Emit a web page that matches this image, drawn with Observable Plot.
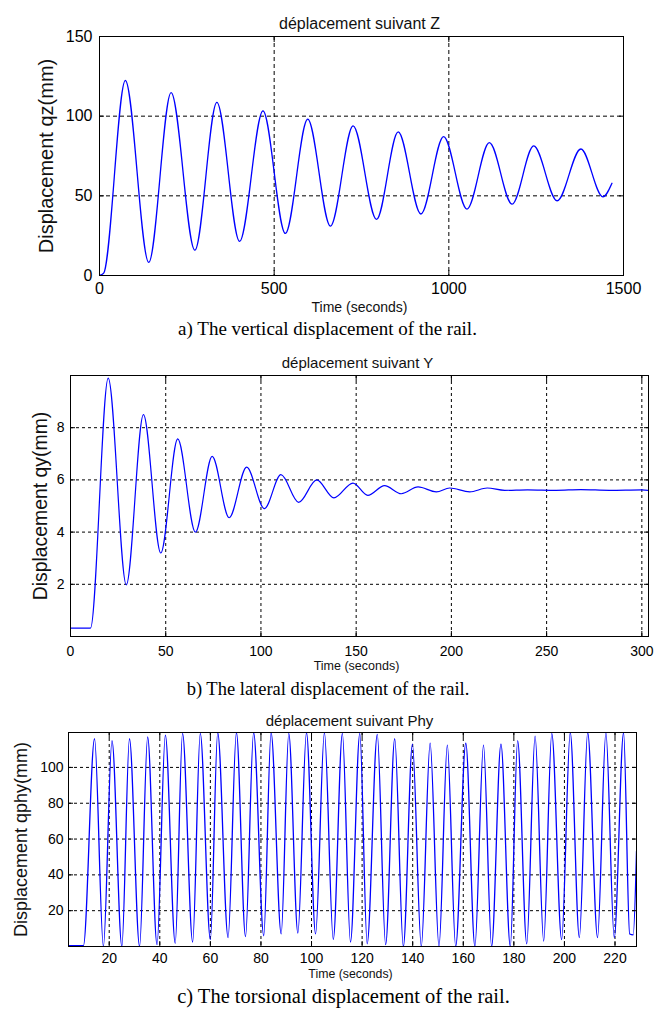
<!DOCTYPE html>
<html>
<head>
<meta charset="utf-8">
<script src="https://cdn.jsdelivr.net/npm/d3@7"></script>
<script src="https://cdn.jsdelivr.net/npm/@observablehq/plot@0.6"></script>
<style>
  body { margin: 0; background: #fff; }
  #chart svg { display: block; }
</style>
</head>
<body>
<div id="chart"></div>
<script>
// ---------- Panel a: vertical displacement ----------
const titleA = "déplacement suivant Z";
const yLabelA = "Displacement qz(mm)";
const xLabelA = "Time (seconds)";
const captionA = "a) The vertical displacement of the rail.";
const tA = [0, 12, 74, 141, 205, 273, 336, 401, 468, 532, 596, 661, 726, 793, 855, 920, 985, 1052, 1116, 1181, 1243, 1310, 1378, 1441, 1467];
const qz = [0, 1.5, 122.4, 8.2, 114.8, 15.9, 108.6, 21.4, 103.3, 26.4, 98.1, 31.0, 93.9, 35.2, 90.1, 38.6, 87.2, 41.7, 83.4, 44.8, 81.3, 46.9, 79.4, 49.4, 57.9];
const xTicksA = [0, 500, 1000, 1500];
const yTicksA = [0, 50, 100, 150];
const xGridA = [500, 1000];
const yGridA = [50, 100];

// ---------- Panel b: lateral displacement ----------
const titleB = "déplacement suivant Y";
const yLabelB = "Displacement qy(mm)";
const xLabelB = "Time (seconds)";
const captionB = "b) The lateral displacement of the rail.";
const tB = [0, 10.5, 19.8, 29.3, 38.3, 47.4, 56.3, 65.6, 74.4, 83.3, 92.5, 101.8, 110.5, 119.8, 129.3, 138.3, 148.3, 156.1, 164.9, 173.7, 182.5, 192.1, 199.1, 209.6, 218.8, 228, 240, 255, 268, 283, 300, 303.5];
const qy = [0.32, 0.32, 9.9, 1.98, 8.5, 3.2, 7.57, 4.0, 6.9, 4.55, 6.49, 4.9, 6.2, 5.14, 6.0, 5.31, 5.88, 5.41, 5.78, 5.47, 5.73, 5.54, 5.69, 5.54, 5.69, 5.6, 5.62, 5.6, 5.63, 5.6, 5.62, 5.6];
const xTicksB = [0, 50, 100, 150, 200, 250, 300];
const yTicksB = [2, 4, 6, 8];
const xGridB = [0, 50, 100, 150, 200, 250, 300];
const yGridB = [2, 4, 6, 8];

// ---------- Panel c: torsional displacement ----------
const titleC = "déplacement suivant Phy";
const yLabelC = "Displacement qphy(mm)";
const xLabelC = "Time (seconds)";
const captionC = "c) The torsional displacement of the rail.";
const tC = [3.9, 9.8, 14.2, 17.7, 21.1, 25.0, 28.0, 32.0, 35.2, 38.9, 42.2, 46.1, 49.0, 53.0, 56.0, 60.0, 62.9, 67.0, 70.3, 73.9, 77.1, 81.1, 84.0, 88.0, 91.0, 94.6, 98.0, 101.6, 105.1, 108.6, 112.2, 115.4, 119.1, 122.0, 126.0, 129.3, 132.9, 136.3, 139.9, 143.4, 146.9, 150.4, 153.7, 157.0, 161.0, 164.6, 168.0, 171.2, 174.9, 178.6, 181.5, 185.1, 188.4, 191.8, 195.0, 198.9, 202.3, 205.9, 209.2, 213.1, 216.4, 219.7, 223.4, 225.8, 227.2, 228.5];
const qphy = [0.5, 0.5, 116, 0, 115, 0, 116, 0, 117, 1, 118, 1.8, 119, 2.5, 119, 3.8, 119.5, 5, 119.5, 5.5, 119.5, 6, 119.5, 7, 119, 7.5, 119.5, 7, 119.5, 4, 119, 2.5, 119, 1.5, 118.5, 1, 116, 0, 113, 0, 113.5, 0, 112.5, 0, 113.5, 0, 112.5, 0, 113, 0, 115, 1.5, 117.5, 3, 119, 3.8, 119.5, 5, 119.5, 5, 119.5, 5, 119.5, 7, 6.5, 53];
const xTicksC = [20, 40, 60, 80, 100, 120, 140, 160, 180, 200, 220];
const yTicksC = [20, 40, 60, 80, 100];
const xGridC = [20, 40, 60, 80, 100, 120, 140, 160, 180, 200, 220];
const yGridC = [20, 40, 60, 80, 100];

const sans = "'Liberation Sans', Arial, Helvetica, sans-serif";
const serif = "'Liberation Serif', 'Times New Roman', serif";

function panel(o) {
  const data = o.t.map((t, i) => ({t, v: o.v[i]}));
  const noText = () => "";
  const plain = d => String(d);
  return Plot.plot({
    width: 654,
    height: o.height,
    marginTop: o.mt, marginBottom: o.mb, marginLeft: o.ml, marginRight: o.mr,
    style: {fontFamily: sans, background: "#fff", color: "#000", overflow: "visible"},
    x: {domain: o.xDomain, label: null},
    y: {domain: o.yDomain, label: null},
    marks: [
      Plot.gridX(o.xGrid, {stroke: "#000", strokeOpacity: 1, strokeWidth: 1, strokeDasharray: o.dash}),
      Plot.gridY(o.yGrid, {stroke: "#000", strokeOpacity: 1, strokeWidth: 1, strokeDasharray: o.dash}),
      Plot.line(data, {x: "t", y: "v", stroke: "#0000ff", strokeWidth: o.lineWidth, curve: "monotone-x", clip: true}),
      Plot.axisX(o.xTicks, {anchor: "bottom", tickSize: -5, tickFormat: noText, label: null}),
      Plot.axisX(o.xTicks, {anchor: "top", tickSize: -5, tickFormat: noText, label: null}),
      Plot.axisY(o.yTicks, {anchor: "left", tickSize: -5, tickFormat: noText, label: null}),
      Plot.axisY(o.yTicks, {anchor: "right", tickSize: -5, tickFormat: noText, label: null}),
      Plot.axisX(o.xTicks, {anchor: "bottom", tickSize: 0, tickPadding: o.xPad, fontSize: o.tickFont, tickFormat: plain, label: null}),
      Plot.axisY(o.yTicks, {anchor: "left", tickSize: 0, tickPadding: o.yPad, fontSize: o.tickFont, tickFormat: plain, label: null}),
      Plot.frame({stroke: "#000", strokeWidth: 1}),
      Plot.text([o.title], {text: d => d, frameAnchor: "top", textAnchor: "middle", dx: o.titleDx, dy: o.titleDy, fontSize: o.titleFont, fill: "#111", fontFamily: sans}),
      Plot.text([o.xLabel], {text: d => d, frameAnchor: "bottom", textAnchor: "middle", dx: o.xLabDx, dy: o.xLabDy, fontSize: o.xLabFont, fill: "#111", fontFamily: sans}),
      Plot.text([o.yLabel], {text: d => d, frameAnchor: "left", textAnchor: "middle", rotate: -90, dx: o.yLabDx, fontSize: o.yLabFont, fill: "#111", fontFamily: sans}),
      Plot.text([o.caption], {text: d => d, frameAnchor: "bottom", textAnchor: "middle", dx: o.capDx, dy: o.capDy, fontSize: o.capFont, fill: "#000", fontFamily: serif})
    ]
  });
}

const chart = document.getElementById("chart");

chart.append(panel({
  t: tA, v: qz, height: 345, mt: 36, mb: 70, ml: 99, mr: 31,
  xDomain: [0, 1500], yDomain: [0, 150],
  xTicks: xTicksA, yTicks: yTicksA, xGrid: xGridA, yGrid: yGridA, dash: "4,3",
  tickFont: 16, xPad: 7, yPad: 7, lineWidth: 1.3,
  title: titleA, titleDx: -2, titleDy: -19, titleFont: 16,
  xLabel: xLabelA, xLabDx: -2, xLabDy: 36, xLabFont: 14,
  yLabel: yLabelA, yLabDx: -53, yLabFont: 20,
  caption: captionA, capDx: -34, capDy: 59, capFont: 19
}));

chart.append(panel({
  t: tB, v: qy, height: 360, mt: 30, mb: 69, ml: 70, mr: 6,
  xDomain: [0, 303.5], yDomain: [0, 10],
  xTicks: xTicksB, yTicks: yTicksB, xGrid: xGridB, yGrid: yGridB, dash: "3,3",
  tickFont: 14, xPad: 10, yPad: 6, lineWidth: 1.2,
  title: titleB, titleDx: -2, titleDy: -18, titleFont: 15,
  xLabel: xLabelB, xLabDx: -3, xLabDy: 33, xLabFont: 12.5,
  yLabel: yLabelB, yLabDx: -30, yLabFont: 19.4,
  caption: captionB, capDx: -31.5, capDy: 58, capFont: 18.5
}));

chart.append(panel({
  t: tC, v: qphy, height: 308, mt: 27, mb: 67, ml: 68, mr: 18,
  xDomain: [3.9, 228.5], yDomain: [0, 119.5],
  xTicks: xTicksC, yTicks: yTicksC, xGrid: xGridC, yGrid: yGridC, dash: "3,3",
  tickFont: 14, xPad: 7, yPad: 5, lineWidth: 1.3,
  title: titleC, titleDx: -3, titleDy: -17, titleFont: 15,
  xLabel: xLabelC, xLabDx: -2, xLabDy: 31, xLabFont: 12.3,
  yLabel: yLabelC, yLabDx: -47, yLabFont: 18,
  caption: captionC, capDx: -9, capDy: 56, capFont: 20.5
}));
</script>
</body>
</html>
